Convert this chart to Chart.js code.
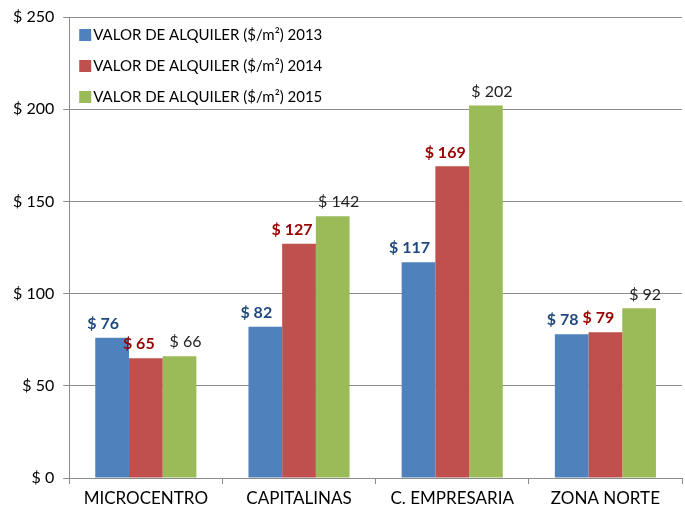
<!DOCTYPE html>
<html>
<head>
<meta charset="utf-8">
<script src="https://cdn.jsdelivr.net/npm/chart.js@4"></script>
<style>
  html, body { margin: 0; padding: 0; background: #ffffff; }
  #wrap { width: 685px; height: 512px; }
</style>
</head>
<body>
<div id="wrap"><canvas id="grafico"></canvas></div>
<script>
// datos del grafico
const zonas = ["MICROCENTRO", "CAPITALINAS", "C. EMPRESARIA", "ZONA NORTE"];
const alquiler2013 = [76, 82, 117, 78];
const alquiler2014 = [65, 127, 169, 79];
const alquiler2015 = [66, 142, 202, 92];
const series = ["VALOR DE ALQUILER ($/m\u00b2) 2013", "VALOR DE ALQUILER ($/m\u00b2) 2014", "VALOR DE ALQUILER ($/m\u00b2) 2015"];

const fuente = "Lato, 'Open Sans', sans-serif";
const coloresBarra = ['#4F81BD', '#C0504D', '#9BBB59'];
const coloresEtiqueta = ['#1F497D', '#990000', '#222222'];
const negrita = ['bold', 'bold', 'normal'];
const desplazamiento = [-9, -7, 6]; // corrimiento horizontal de las etiquetas

// etiquetas sobre las barras
const etiquetasPlugin = {
    id: 'etiquetas',
    afterDatasetsDraw(chart) {
        const ctx = chart.ctx;
        ctx.save();
        ctx.textAlign = 'center';
        ctx.textBaseline = 'bottom';
        chart.data.datasets.forEach((ds, i) => {
            const meta = chart.getDatasetMeta(i);
            ctx.font = negrita[i] + ' 16px ' + fuente;
            ctx.fillStyle = coloresEtiqueta[i];
            meta.data.forEach((bar, j) => {
                ctx.fillText('$ ' + ds.data[j], bar.x + desplazamiento[i], bar.y - 6);
            });
        });
        ctx.restore();
    }
};

// leyenda dentro del area del grafico
const leyendaPlugin = {
    id: 'leyenda',
    afterDraw(chart) {
        const ctx = chart.ctx;
        const area = chart.chartArea;
        ctx.save();
        ctx.font = '15px ' + fuente;
        ctx.textBaseline = 'middle';
        ctx.textAlign = 'left';
        chart.data.datasets.forEach((ds, i) => {
            const y = area.top + 18 + i * 31;
            ctx.fillStyle = ds.backgroundColor;
            ctx.fillRect(area.left + 10, y - 6, 12, 12);
            ctx.fillStyle = '#000000';
            ctx.fillText(ds.label, area.left + 24, y);
        });
        ctx.restore();
    }
};

const ctx = document.getElementById('grafico').getContext('2d');
new Chart(ctx, {
    type: 'bar',
    data: {
        labels: zonas,
        datasets: [
            { label: series[0], data: alquiler2013, backgroundColor: coloresBarra[0] },
            { label: series[1], data: alquiler2014, backgroundColor: coloresBarra[1] },
            { label: series[2], data: alquiler2015, backgroundColor: coloresBarra[2] }
        ]
    },
    options: {
        responsive: true,
        maintainAspectRatio: false,
        animation: false,
        datasets: {
            bar: { categoryPercentage: 0.66, barPercentage: 1.0 }
        },
        layout: { padding: { top: 0, right: 3, left: 4, bottom: -1 } },
        scales: {
            x: {
                grid: { offset: true, drawOnChartArea: false, color: '#8c8c8c', tickLength: 6 },
                border: { color: '#8c8c8c' },
                ticks: { color: '#000000', font: { family: fuente, size: 17, lineHeight: 1 }, padding: 6 }
            },
            y: {
                min: 0,
                max: 250,
                ticks: {
                    stepSize: 50,
                    color: '#000000',
                    font: { family: fuente, size: 16, lineHeight: 1 },
                    padding: 9,
                    callback: (v) => '$ ' + v
                },
                grid: { color: '#8c8c8c', tickLength: 6 },
                border: { color: '#8c8c8c' }
            }
        },
        plugins: {
            legend: { display: false },
            tooltip: { enabled: false }
        }
    },
    plugins: [etiquetasPlugin, leyendaPlugin]
});
</script>
</body>
</html>
